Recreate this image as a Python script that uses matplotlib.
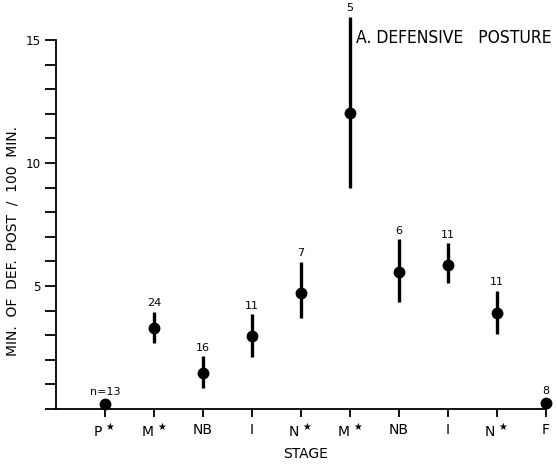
import matplotlib
matplotlib.use("Agg")
import matplotlib.pyplot as plt
from matplotlib.ticker import MultipleLocator

stages = ["P", "M", "NB", "I", "N", "M", "NB", "I", "N", "F"]
starred = [True, True, False, False, True, True, False, False, True, False]
means = [0.2, 3.3, 1.45, 2.98, 4.70, 12.02, 5.58, 5.85, 3.89, 0.23]
upper = [0.2, 3.95, 2.15, 3.85, 5.99, 15.95, 6.9, 6.74, 4.8, 0.23]
lower = [0.2, 2.67, 0.87, 2.13, 3.71, 9.0, 4.36, 5.11, 3.04, 0.23]
counts = ["n=13", "24", "16", "11", "7", "5", "6", "11", "11", "8"]

plt.rcParams['font.family'] = ['DejaVu Sans']
fig = plt.figure(figsize=(5.57, 4.66), dpi=100)
ax = fig.add_axes([0.1005, 0.1223, 0.8795, 0.7919])

x = list(range(1, len(stages) + 1))
for xi, m, lo, hi in zip(x, means, lower, upper):
    if hi > lo:
        ax.plot([xi, xi], [lo, hi], color='black', lw=2.4, clip_on=False, solid_capstyle='butt')
ax.plot(x, means, 'o', color='black', ms=7.5, clip_on=False, zorder=3)

for xi, m, hi, c in zip(x, means, upper, counts):
    off = 2.5 if hi > m else 5
    ax.annotate(c, (xi, hi), xytext=(0, off), textcoords='offset points',
                ha='center', va='bottom', fontsize=8, annotation_clip=False)

ax.set_xlim(0, 10)
ax.set_ylim(0, 15)
ax.spines['top'].set_visible(False)
ax.spines['right'].set_visible(False)
for s in ['left', 'bottom']:
    ax.spines[s].set_linewidth(1.3)

labels = [s + (r" $^{\bigstar}$" if st else "") for s, st in zip(stages, starred)]
ax.set_xticks(x)
ax.set_xticklabels(labels, fontsize=10)
ax.set_yticks([5, 10, 15])
ax.set_yticklabels(["5", "10", "15"], fontsize=9.5, fontstretch='condensed')
ax.yaxis.set_minor_locator(MultipleLocator(1))
ax.tick_params(axis='y', which='both', direction='out', length=8, width=1.3, pad=3)
ax.tick_params(axis='x', direction='out', length=6, width=1.3, pad=4)

ax.set_xlabel("STAGE", fontsize=10)
ax.xaxis.set_label_coords(0.51, -0.103)
ax.set_ylabel("MIN.  OF  DEF.  POST  /  100  MIN.", fontsize=10)
ax.yaxis.set_label_coords(-0.075, 0.455)
ax.text(6.12, 15.08, "A. DEFENSIVE   POSTURE", fontsize=12.5, ha='left', va='center',
        fontstretch='condensed')

fig.savefig("out.png", dpi=100)
